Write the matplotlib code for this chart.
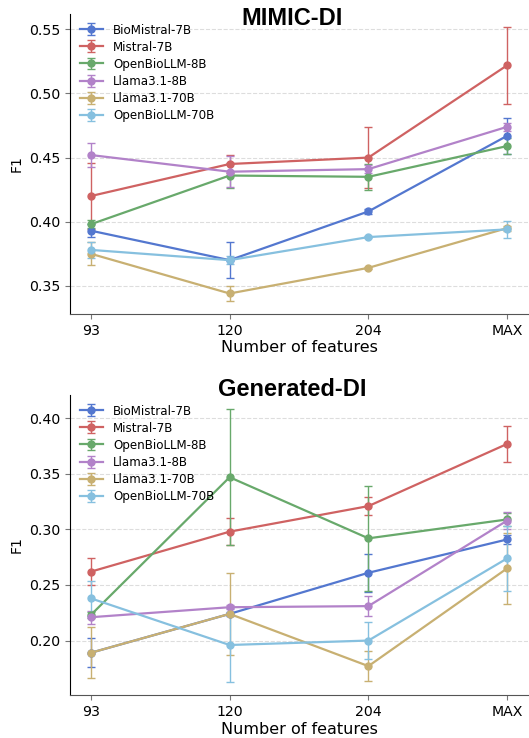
import matplotlib
matplotlib.use("Agg")
import matplotlib.pyplot as plt
import numpy as np

# ---- data ----
x_labels = ["93", "120", "204", "MAX"]
models = ["BioMistral-7B", "Mistral-7B", "OpenBioLLM-8B", "Llama3.1-8B", "Llama3.1-70B", "OpenBioLLM-70B"]
colors = ["#5377cf", "#cf6262", "#68a96b", "#b282c9", "#c8b072", "#86c0df"]

mimic_f1 = {
    "BioMistral-7B":  [0.393, 0.370, 0.408, 0.467],
    "Mistral-7B":     [0.420, 0.445, 0.450, 0.522],
    "OpenBioLLM-8B":  [0.398, 0.436, 0.435, 0.459],
    "Llama3.1-8B":    [0.452, 0.439, 0.441, 0.474],
    "Llama3.1-70B":   [0.375, 0.344, 0.364, 0.395],
    "OpenBioLLM-70B": [0.378, 0.370, 0.388, 0.394],
}
mimic_err = {
    "BioMistral-7B":  [0.005, 0.014, 0.002, 0.014],
    "Mistral-7B":     [0.026, 0.007, 0.024, 0.030],
    "OpenBioLLM-8B":  [0.003, 0.010, 0.010, 0.006],
    "Llama3.1-8B":    [0.009, 0.012, 0.003, 0.003],
    "Llama3.1-70B":   [0.009, 0.006, 0.001, 0.002],
    "OpenBioLLM-70B": [0.006, 0.003, 0.001, 0.0065],
}
gen_f1 = {
    "BioMistral-7B":  [0.189, 0.224, 0.261, 0.291],
    "Mistral-7B":     [0.262, 0.298, 0.321, 0.377],
    "OpenBioLLM-8B":  [0.223, 0.347, 0.292, 0.309],
    "Llama3.1-8B":    [0.221, 0.230, 0.231, 0.308],
    "Llama3.1-70B":   [0.189, 0.224, 0.177, 0.265],
    "OpenBioLLM-70B": [0.238, 0.196, 0.200, 0.274],
}
gen_err = {
    "BioMistral-7B":  [0.013, 0.002, 0.017, 0.004],
    "Mistral-7B":     [0.012, 0.012, 0.008, 0.016],
    "OpenBioLLM-8B":  [0.003, 0.061, 0.047, 0.006],
    "Llama3.1-8B":    [0.006, 0.002, 0.009, 0.008],
    "Llama3.1-70B":   [0.023, 0.037, 0.0135, 0.032],
    "OpenBioLLM-70B": [0.016, 0.033, 0.0165, 0.029],
}

plt.rcParams["font.family"] = ["DejaVu Sans"]

fig = plt.figure(figsize=(5.29, 7.38), dpi=100)
W, H = 529, 738
ax1 = fig.add_axes([70 / W, 1 - 314 / H, 458 / W, 300 / H])
ax2 = fig.add_axes([70 / W, 1 - 695 / H, 458 / W, 300 / H])

xpos = np.arange(len(x_labels))

def draw(ax, data, err, title, ylim, yticks, title_y):
    for m, c in zip(models, colors):
        ax.errorbar(xpos, data[m], yerr=err[m], marker="o", markersize=5,
                    lw=1.6, elinewidth=1.0, capsize=3, capthick=1.0,
                    color=c, label=m)
    ax.set_xticks(xpos)
    ax.set_xticklabels(x_labels, fontsize=10.2)
    ax.set_yticks(yticks)
    ax.set_yticklabels([f"{v:.2f}" for v in yticks], fontsize=10.2)
    ax.set_ylim(*ylim)
    ax.set_xlim(-0.15, 3.15)
    ax.set_xlabel("Number of features", fontsize=11.5, labelpad=2)
    ax.set_ylabel("F1", fontsize=10)
    ax.grid(axis="y", linestyle="--", color="#dddddd", lw=0.8)
    ax.set_axisbelow(True)
    for s in ["top", "right"]:
        ax.spines[s].set_visible(False)
    ax.spines["left"].set_color("black")
    ax.spines["bottom"].set_color("#555555")
    ax.tick_params(axis="both", color="#777777", length=3.5)
    ax.legend(loc="upper left", frameon=False, fontsize=8.6,
              handlelength=2.0, labelspacing=0.34, borderaxespad=0.4)
    ax.text((292 - 70) / 458, title_y, title, transform=ax.transAxes,
            ha="center", va="baseline", fontsize=17, fontweight="bold",
            family="Liberation Sans")

draw(ax1, mimic_f1, mimic_err, "MIMIC-DI", (0.328, 0.562),
     [0.35, 0.40, 0.45, 0.50, 0.55], (314 - 25) / 300)
draw(ax2, gen_f1, gen_err, "Generated-DI", (0.151, 0.421),
     [0.20, 0.25, 0.30, 0.35, 0.40], (695 - 396) / 300)

fig.savefig("out.png", dpi=100)
